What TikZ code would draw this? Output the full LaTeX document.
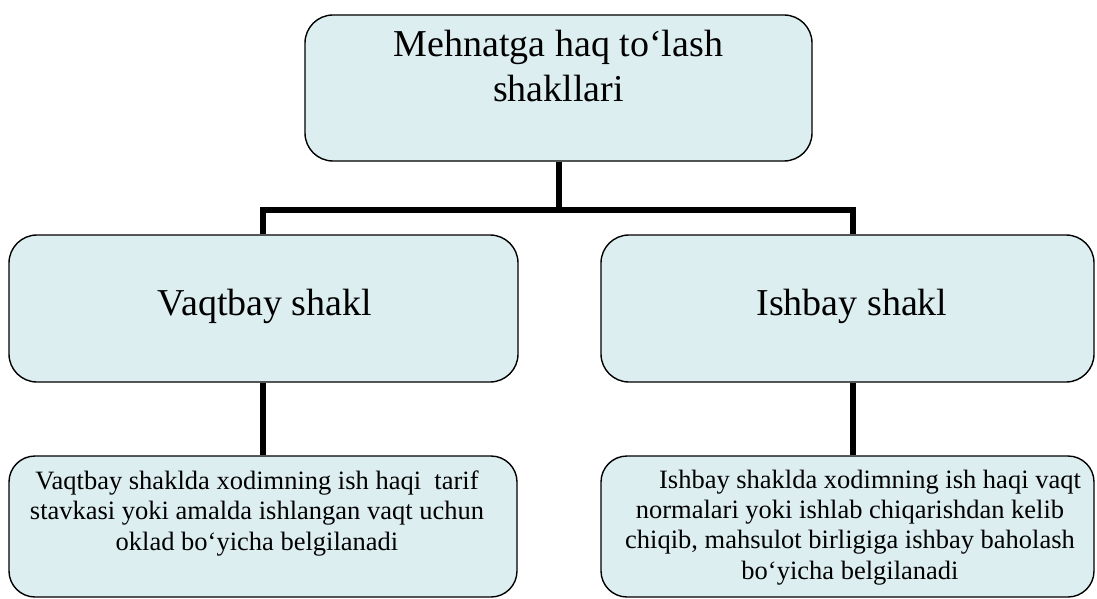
\documentclass[tikz,border=0pt]{standalone}
\usepackage{fontspec}
\setmainfont{Liberation Serif}
\definecolor{boxfill}{RGB}{221,238,241}
\begin{document}
\begin{tikzpicture}[x=1pt,y=-1pt,
  box/.style={draw=black, line width=1.4pt, fill=boxfill, rounded corners=28pt, inner sep=0pt},
  conn/.style={line width=6pt, draw=black},
  bigtxt/.style={font=\fontsize{38}{45}\selectfont, align=center, inner sep=0pt},
  smalltxt/.style={font=\fontsize{26.5}{30.2}\selectfont, align=center, inner sep=0pt}]
\clip (0,0) rectangle (1097,599);
\fill[white] (0,0) rectangle (1097,599);
% boxes
\node[box, minimum width=507pt, minimum height=146pt] (top) at (558.5,88) {};
\node[box, minimum width=509pt, minimum height=147pt] (left) at (263.5,308.5) {};
\node[box, minimum width=493pt, minimum height=147pt] (right) at (847.5,308.5) {};
\node[box, rounded corners=26pt, minimum width=508pt, minimum height=141pt] (bl) at (263,526.5) {};
\node[box, rounded corners=26pt, minimum width=493pt, minimum height=141pt] (br) at (847.5,526.5) {};
% texts (anchor=base is the baseline of the last line)
\node[bigtxt, anchor=base] (toptxt) at (558.5,102) {Mehnatga haq to‘lash\\shakllari};
\node[bigtxt, anchor=base] (lefttxt) at (265,315) {Vaqtbay shakl};
\node[bigtxt, anchor=base] (righttxt) at (852,315) {Ishbay shakl};
\node[smalltxt, anchor=base] (bltxt) at (257,550) {Vaqtbay shaklda xodimning ish haqi\ \ tarif\\stavkasi yoki amalda ishlangan vaqt uchun\\oklad bo‘yicha belgilanadi};
\node[smalltxt, anchor=base] (brtxt) at (850,579) {\hspace*{40pt}Ishbay shaklda xodimning ish haqi vaqt\\normalari yoki ishlab chiqarishdan kelib\\chiqib, mahsulot birligiga ishbay baholash\\bo‘yicha belgilanadi};
% connectors
\coordinate (hl) at (263,210);
\coordinate (hr) at (853,210);
\coordinate (hm) at (top.south |- hl);
\draw[conn] (top.south) -- (hm);
\draw[conn, line cap=rect] (hl) -- (hr);
\draw[conn] (hl) -- (hl |- left.north);
\draw[conn] (hr) -- (hr |- right.north);
\draw[conn] (hl |- left.south) -- (hl |- bl.north);
\draw[conn] (hr |- right.south) -- (hr |- br.north);
\end{tikzpicture}
\end{document}
